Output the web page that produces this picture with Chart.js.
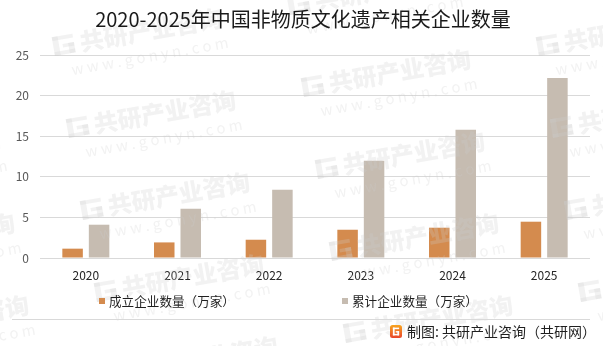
<!DOCTYPE html>
<html lang="zh-CN">
<head>
  <meta charset="UTF-8" />
  <title>2020-2025年中国非物质文化遗产相关企业数量</title>
  <script src="https://cdn.jsdelivr.net/npm/chart.js@4.4.1/dist/chart.umd.min.js"></script>
  <style>
    html, body { margin: 0; padding: 0; background: #fff; }
    .wrap { position: relative; width: 603px; height: 346px; }
  </style>
</head>
<body>
  <div class="wrap">
    <canvas id="chart"></canvas>
  </div>

  <script>
    // 年份与两组数据（单位：万家）
    const years = ['2020', '2021', '2022', '2023', '2024', '2025'];
    const newFirms = [1.15, 1.92, 2.25, 3.48, 3.73, 4.47];
    const totalFirms = [4.10, 6.07, 8.40, 11.97, 15.78, 22.18];
    const yTicks = [0, 5, 10, 15, 20, 25];

    const titleText = '2020-2025年中国非物质文化遗产相关企业数量';
    const seriesNames = ['成立企业数量（万家）', '累计企业数量（万家）'];
    const sourceText = '制图: 共研产业咨询（共研网）';

    const ORANGE = '#D48B4E';
    const GREY = '#C6BCB1';
    const FONT = '"Noto Sans CJK SC", "Noto Sans", sans-serif';
    const WM = 'rgba(205,205,205,0.26)';

    function roundRect(ctx, x, y, w, h, r) {
      ctx.beginPath();
      ctx.moveTo(x + r, y);
      ctx.lineTo(x + w - r, y);
      ctx.quadraticCurveTo(x + w, y, x + w, y + r);
      ctx.lineTo(x + w, y + h - r);
      ctx.quadraticCurveTo(x + w, y + h, x + w - r, y + h);
      ctx.lineTo(x + r, y + h);
      ctx.quadraticCurveTo(x, y + h, x, y + h - r);
      ctx.lineTo(x, y + r);
      ctx.quadraticCurveTo(x, y, x + r, y);
      ctx.closePath();
    }

    // G 字形（方块状）
    function drawG(ctx, x, y, w, h) {
      ctx.fillRect(x, y, w, h * 0.2);
      ctx.fillRect(x, y, w * 0.28, h);
      ctx.fillRect(x, y + h * 0.8, w, h * 0.2);
      ctx.fillRect(x + w * 0.72, y + h * 0.45, w * 0.28, h * 0.55);
      ctx.fillRect(x + w * 0.45, y + h * 0.45, w * 0.55, h * 0.18);
    }

    function drawFooterLogo(ctx, x, y, w, h) {
      const g = ctx.createLinearGradient(x, y, x, y + h);
      g.addColorStop(0, '#F7A51E');
      g.addColorStop(1, '#E9452B');
      roundRect(ctx, x, y, w, h, 2.5);
      ctx.fillStyle = g;
      ctx.fill();
      ctx.fillStyle = '#fff';
      drawG(ctx, x + w * 0.24, y + h * 0.2, w * 0.52, h * 0.6);
    }

    // 背景水印，按旋转网格平铺
    const watermarkPlugin = {
      id: 'watermark',
      afterDatasetsDraw(chart) {
        const ctx = chart.ctx;
        const angle = -10 * Math.PI / 180;
        const colVec = [235, -41];
        const rowVec = [14, 82];
        const origin = [304, 97];
        ctx.save();
        ctx.fillStyle = WM;
        for (let i = -2; i <= 2; i++) {
          for (let j = -2; j <= 4; j++) {
            const x = origin[0] + i * colVec[0] + j * rowVec[0];
            const y = origin[1] + i * colVec[1] + j * rowVec[1];
            if (x < -200 || x > 640 || y < -40 || y > 400) continue;
            ctx.save();
            ctx.translate(x, y);
            ctx.rotate(angle);
            drawG(ctx, 0, -19, 21, 19);
            ctx.font = '900 24px ' + FONT;
            ctx.textBaseline = 'alphabetic';
            ctx.fillText('共研产业咨询', 27, 0);
            ctx.font = '15px ' + FONT;
            ctx.fillText('w w w . g o n y n . c o m', 14, 22);
            ctx.restore();
          }
        }
        ctx.restore();
      }
    };

    // 标题、图例、分隔线和来源
    const decorPlugin = {
      id: 'decor',
      afterDraw(chart) {
        const ctx = chart.ctx;
        ctx.save();
        ctx.fillStyle = '#1a1a1a';
        ctx.font = '20px ' + FONT;
        ctx.textAlign = 'center';
        ctx.textBaseline = 'middle';
        ctx.fillText(titleText, 303, 19);

        const legendX = [99, 342];
        const colors = [ORANGE, GREY];
        ctx.textAlign = 'left';
        ctx.font = '12.6px ' + FONT;
        for (let k = 0; k < 2; k++) {
          ctx.fillStyle = colors[k];
          ctx.fillRect(legendX[k], 298, 6, 6);
          ctx.fillStyle = '#1f1f1f';
          ctx.fillText(seriesNames[k], legendX[k] + 10, 301.5);
        }

        ctx.strokeStyle = '#d9d9d9';
        ctx.lineWidth = 1;
        ctx.beginPath();
        ctx.moveTo(12, 319.5);
        ctx.lineTo(590, 319.5);
        ctx.stroke();

        drawFooterLogo(ctx, 390, 325, 12, 13);
        ctx.fillStyle = '#1f1f1f';
        ctx.font = '14px ' + FONT;
        ctx.fillText(sourceText, 407, 332);
        ctx.restore();
      }
    };

    new Chart(document.getElementById('chart'), {
      type: 'bar',
      data: {
        labels: years,
        datasets: [
          { label: seriesNames[0], data: newFirms, backgroundColor: ORANGE,
            categoryPercentage: 0.578, barPercentage: 0.774 },
          { label: seriesNames[1], data: totalFirms, backgroundColor: GREY,
            categoryPercentage: 0.578, barPercentage: 0.774 }
        ]
      },
      options: {
        responsive: true,
        maintainAspectRatio: false,
        animation: false,
        devicePixelRatio: 1,
        layout: { padding: { top: 55, right: 13, bottom: 0, left: 0 } },
        plugins: {
          legend: { display: false },
          title: { display: false },
          tooltip: { enabled: false }
        },
        scales: {
          x: {
            grid: { display: false, drawTicks: false },
            border: { display: false },
            ticks: { color: '#262626', font: { family: FONT, size: 12 }, padding: 10 },
            afterFit(scale) { scale.height = 88; }
          },
          y: {
            min: 0,
            max: 25,
            afterBuildTicks(scale) { scale.ticks = yTicks.map(v => ({ value: v })); },
            grid: { color: '#d9d9d9', lineWidth: 1, drawTicks: false },
            border: { display: false },
            ticks: { color: '#595959', font: { family: FONT, size: 12 }, padding: 11 },
            afterFit(scale) { scale.width = 40; }
          }
        }
      },
      plugins: [watermarkPlugin, decorPlugin]
    });
  </script>
</body>
</html>
